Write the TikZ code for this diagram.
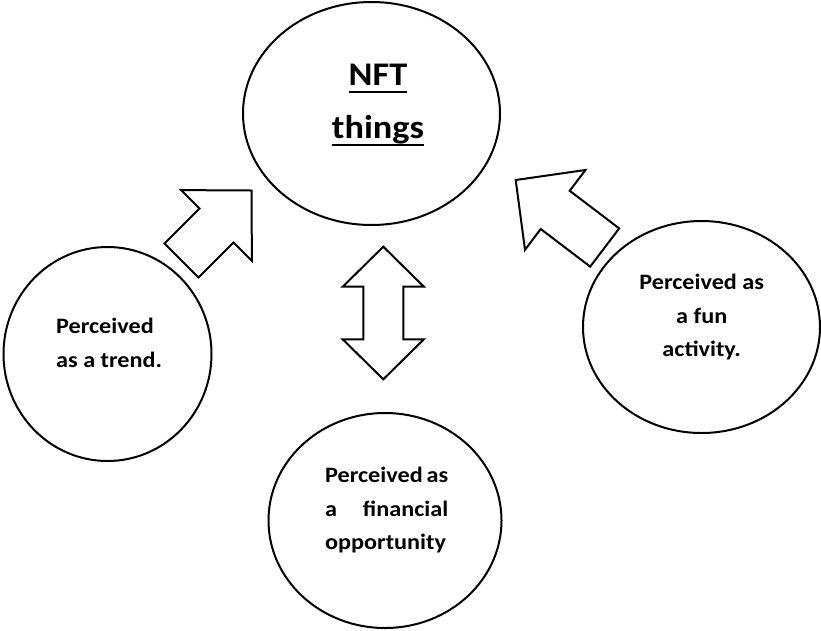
\documentclass[tikz,border=0pt]{standalone}
\usepackage{fontspec}
\setmainfont{Carlito}[FakeStretch=1.1]
\usetikzlibrary{shapes.geometric}

% underline at a fixed depth below the baseline
\newcommand{\nftuline}[1]{\leavevmode\setbox0=\hbox{#1}\rlap{\rule[-7.5pt]{\wd0}{2pt}}\box0}

\tikzset{
	bubble/.style={ellipse, draw, line width=2pt, inner sep=0pt},
	bubbletext/.style={inner sep=0pt, font=\bfseries\fontsize{22}{33.5}\selectfont},
	titletext/.style={inner sep=0pt, font=\bfseries\fontsize{33}{53}\selectfont},
	blockarrow/.style={draw, line width=2pt, line join=miter},
}

\begin{document}
\begin{tikzpicture}[x=1pt, y=-1pt]
	\useasboundingbox (0,0) rectangle (821,630);

	% the four bubbles
	\node[bubble, minimum width=257pt, minimum height=223pt] (nft) at (371.5,113.5) {};
	\node[bubble, minimum width=208pt, minimum height=214pt] (trend) at (107.5,354) {};
	\node[bubble, minimum width=237pt, minimum height=212pt] (fun) at (701.5,327) {};
	\node[bubble, minimum width=233pt, minimum height=215pt] (money) at (385,520.5) {};

	% texts (base = last line, except with text width)
	\node[titletext, anchor=base, align=center] (nfttext) at (378,138.3) {\nftuline{NFT}\\\nftuline{things}};
	\node[bubbletext, anchor=base west, align=left] (trendtext) at (56,367.3) {Perceived\\as a trend.};
	\node[bubbletext, anchor=base, align=center] (funtext) at (701.7,356.7) {Perceived as\\a fun\\activity.};
	\node[bubbletext, anchor=base west, text width=123pt, align=justify] (moneytext) at (325,482.5)
		{Perceived as\linebreak a financial\linebreak opportunity};

	% block arrows
	\draw[blockarrow] (251.5,190.5) -- (181.1,190.1) -- (199.5,208.5) -- (164.5,243.5)
		-- (198.5,277.5) -- (233.5,242.5) -- (251.9,260.9) -- cycle;
	\draw[blockarrow] (515.7,180) -- (585.4,170) -- (569.7,190.8) -- (619.2,228.4)
		-- (590.2,266.6) -- (540.7,229) -- (525,249.8) -- cycle;
	\draw[blockarrow] (383.3,246.7) -- (423.9,286.7) -- (403.3,286.7) -- (403.3,339.3)
		-- (423.9,339.3) -- (383.3,379.3) -- (342.7,339.3) -- (363.3,339.3)
		-- (363.3,286.7) -- (342.7,286.7) -- cycle;
\end{tikzpicture}
\end{document}
